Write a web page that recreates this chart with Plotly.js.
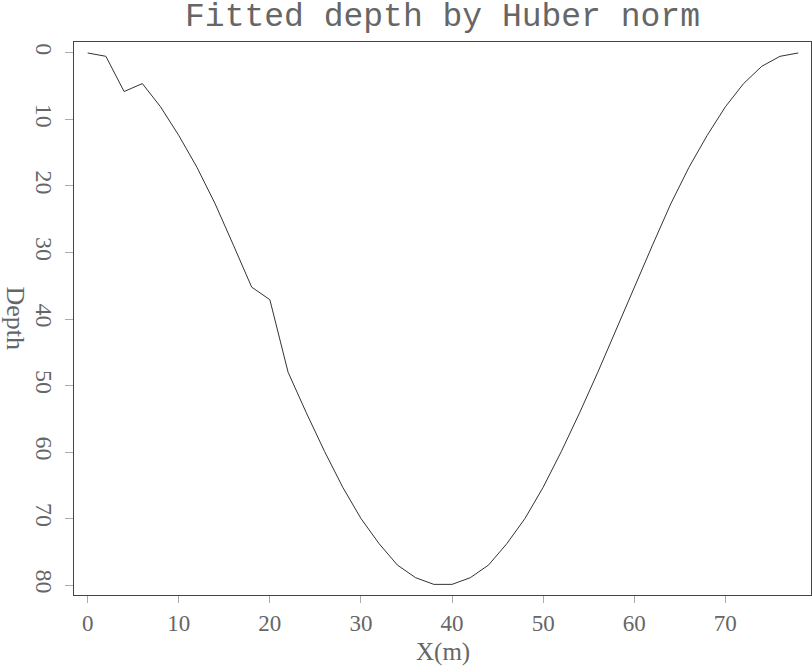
<!DOCTYPE html>
<html>
<head>
<meta charset="utf-8">
<script src="https://cdn.plot.ly/plotly-3.0.1.min.js"></script>
<style>
  html, body { margin: 0; padding: 0; background: #fff; }
  #chart { width: 812px; height: 666px; }
</style>
</head>
<body>
<div id="chart"></div>
<script>
// x positions (m) and fitted depth
var xData = [0, 2, 4, 6, 8, 10, 12, 14, 16, 18,
             20, 22, 24, 26, 28, 30, 32, 34, 36, 38,
             40, 42, 44, 46, 48, 50, 52, 54, 56, 58,
             60, 62, 64, 66, 68, 70, 72, 74, 76, 78];
var depthData = [0, 0.5, 5.8, 4.6, 8.1, 12.4, 17.2, 22.7, 28.9, 35.2,
                 37.1, 48.0, 54.1, 59.9, 65.3, 70.0, 73.8, 77.0, 78.9, 79.9,
                 79.9, 78.9, 77.0, 73.8, 70.0, 65.3, 59.9, 54.1, 48.0, 41.6,
                 35.2, 28.9, 22.7, 17.2, 12.4, 8.1, 4.6, 2.0, 0.5, 0];

var xTicks = [0, 10, 20, 30, 40, 50, 60, 70];
var yTicks = [0, 10, 20, 30, 40, 50, 60, 70, 80];

var textGray = '#666';
var serif = '"Liberation Serif", "DejaVu Serif", serif';

var trace = {
    x: xData,
    y: depthData,
    type: 'scatter',
    mode: 'lines',
    line: {color: '#333', width: 1},
    hoverinfo: 'x+y'
};

var layout = {
    width: 812,
    height: 666,
    margin: {l: 74, r: 1, t: 42, b: 71},
    paper_bgcolor: '#fff',
    plot_bgcolor: '#fff',
    showlegend: false,
    title: {
        text: 'Fitted depth by Huber norm',
        font: {family: '"Liberation Mono", "DejaVu Sans Mono", monospace', size: 33, color: textGray},
        xref: 'paper',
        x: 0.5,
        xanchor: 'center',
        yref: 'container',
        y: 0.979,
        yanchor: 'middle',
        pad: {t: 0, b: 0}
    },
    xaxis: {
        range: [-1.5, 79.4],
        tickvals: xTicks,
        ticktext: xTicks.map(String),
        ticks: 'outside',
        ticklen: 7,
        tickcolor: '#aaa',
        tickwidth: 1,
        showgrid: false,
        zeroline: false,
        showline: true,
        linecolor: '#444',
        linewidth: 1,
        mirror: true,
        tickfont: {family: serif, size: 23, color: textGray}
    },
    yaxis: {
        range: [81.5, -1.65],
        tickvals: yTicks,
        ticktext: yTicks.map(String),
        tickangle: 90,
        ticks: 'outside',
        ticklen: 8,
        tickcolor: '#aaa',
        tickwidth: 1,
        showgrid: false,
        zeroline: false,
        showline: true,
        linecolor: '#444',
        linewidth: 1,
        mirror: true,
        tickfont: {family: serif, size: 24, color: textGray}
    },
    annotations: [{
        text: 'X(m)',
        xref: 'paper',
        yref: 'paper',
        x: 0.5,
        y: -0.1031,
        xanchor: 'center',
        yanchor: 'middle',
        showarrow: false,
        font: {family: serif, size: 25, color: textGray}
    }, {
        text: 'Depth',
        xref: 'paper',
        yref: 'paper',
        x: -0.0787,
        y: 0.5,
        xanchor: 'center',
        yanchor: 'middle',
        textangle: 90,
        showarrow: false,
        font: {family: serif, size: 26, color: textGray}
    }]
};

Plotly.newPlot('chart', [trace], layout, {displayModeBar: false, staticPlot: true});
</script>
</body>
</html>
